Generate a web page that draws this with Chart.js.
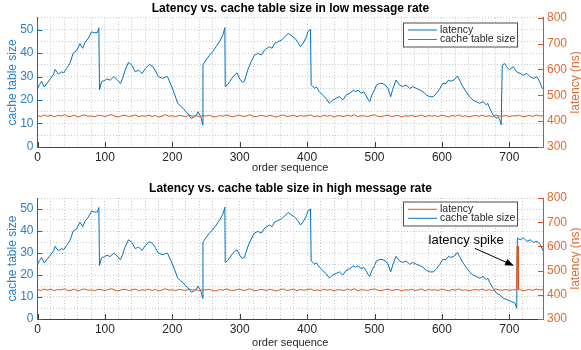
<!DOCTYPE html>
<html>
<head>
<meta charset="utf-8">
<title>Latency vs. cache table size</title>
<script src="https://cdn.jsdelivr.net/npm/chart.js@4"></script>
<style>
  html, body { margin: 0; padding: 0; background: #fff; }
  .panel { position: absolute; left: 0; width: 581px; height: 175px; }
</style>
</head>
<body>
<div class="panel" style="top:0"><canvas id="lowChart" width="581" height="175"></canvas></div>
<div class="panel" style="top:175px"><canvas id="highChart" width="581" height="175"></canvas></div>
<script>
// ========================================
// DATA
// ========================================

// cache table size, shared part of both runs (order sequence 0 .. ~671)
const cacheX = [0, 3, 6, 10, 14, 19, 24, 26, 31, 36, 39, 43, 48, 53, 58, 63, 67, 71, 75, 80, 85, 89, 91,
  92, 95, 100, 103, 108, 113, 118, 123, 126, 130, 135, 140, 145, 150, 155, 160, 166, 171, 175, 179, 183,
  186, 190, 193, 198, 203, 208, 212, 216, 220, 223, 228, 231, 233, 236, 238, 241, 243, 245,
  245.5, 250, 255, 260, 265, 270, 275, 278,
  278.5, 282, 285, 290, 292, 296, 300, 304, 307, 312, 317, 322, 327, 332, 337, 344, 348, 352, 357, 362,
  367, 372, 377, 382, 386, 390, 394, 399, 401, 405,
  406, 411, 414, 418, 423, 428, 433, 438, 443, 448, 453, 458, 463, 469, 472, 476, 480, 484, 487, 491,
  493, 496, 500, 503, 507, 511, 516, 520, 524, 527, 532, 537, 542, 547, 552, 557, 562, 567, 572, 577,
  582, 587, 592, 597, 601, 606, 610, 613, 618, 623, 626, 631, 636, 641, 646, 651, 656, 661, 666, 668, 671];
const cacheBody = [25, 26.5, 28, 25.5, 27, 29, 31, 33, 31, 32, 31.5, 33.4, 35.5, 40, 41, 44, 42, 44.7, 46, 49, 48.6, 48.7, 50.7,
  24.4, 27.7, 28.4, 29, 28.4, 30, 28.7, 27, 29, 32.7, 36, 34.8, 32, 32.7, 31.2, 33.4, 35.2, 34.3, 32.4, 30, 29.5,
  29.2, 29.8, 29.9, 26.4, 22.8, 18.6, 17.5, 16.5, 15, 14.3, 12.2, 12.5, 12.9, 13.5, 15, 13.5, 12.2, 9.4,
  34.9, 37, 39, 40.6, 42.7, 44.8, 47.7, 50.8,
  25.7, 26.5, 27.8, 29.9, 30.5, 31.5, 29, 27.5, 28, 32.8, 36.3, 39.1, 39.8, 39.1, 41.3, 42.7, 42, 44.1, 44.8, 45.5,
  46.9, 48.4, 47.3, 46.2, 44.8, 42.7, 44.1, 46.9, 49, 50,
  26.4, 25, 25.5, 23.6, 22.1, 20.7, 18.6, 20, 20.7, 21.4, 20, 22.1, 22.8, 24.2, 23.6, 24.2, 22.8, 23.5, 22.1, 20,
  19.3, 22.1, 24.3, 26.4, 27, 27.1, 26.4, 25, 21.4, 24.5, 28.5, 26.4, 25.7, 26.4, 24.9, 25.7, 24.9, 24.3, 23.5, 22.1,
  21.4, 21.4, 22.8, 24.9, 27, 27, 28.5, 28, 28.5, 30.2, 28.5, 25.7, 23.5, 21.4, 20, 19.3, 18.6, 19.3, 17.9, 18.6, 16.5];

// end of the low message rate run
const lowTailX = [676, 681, 683, 686, 688, 689.5, 693, 696, 700, 706, 711, 716, 721, 726, 731, 736, 741, 745, 749, 750];
const lowTail = [13.6, 12.2, 12.9, 11.5, 9.4, 34.9, 35.5, 34.2, 32.8, 34.2, 32, 31.3, 30.6, 31.3, 29.9, 29.2, 29.9, 27.8, 24.9, 24.5];

// end of the high message rate run
const highTailX = [676, 681, 686, 691, 696, 703, 708, 711, 712, 716, 721, 726, 731, 736, 741, 746, 750];
const highTail = [14, 11.7, 11, 9.4, 8.9, 7.9, 7.4, 4.9, 36.8, 36, 36.8, 35.3, 36, 34.8, 35.3, 33.8, 31];

// latency (ns), one value every 5 orders
const latency = [
  421, 418, 424, 419, 423, 417, 422, 420, 425, 418,
  419, 423, 416, 421, 424, 419, 420, 417, 423, 421,
  418, 422, 425, 419, 416, 421, 423, 418, 420, 424,
  417, 421, 419, 423, 418, 422, 416, 420, 425, 419,
  421, 417, 423, 420, 418, 424, 419, 422, 417, 421,
  420, 423, 418, 416, 422, 419, 424, 420, 417, 421,
  423, 418, 420, 425, 419, 417, 422, 421, 418, 423,
  419, 416, 421, 424, 418, 420, 423, 417, 422, 419,
  421, 424, 418, 420, 417, 423, 419, 422, 416, 421,
  420, 418, 423, 419, 425, 417, 421, 420, 418, 422,
  424, 419, 417, 421, 423, 418, 420, 422, 416, 421,
  419, 423, 418, 420, 424, 417, 422, 419, 421, 418,
  423, 420, 416, 422, 419, 424, 418, 421, 417, 420,
  422, 419, 423, 418, 421, 417, 424, 420, 419, 422,
  418, 421, 420, 423, 417, 419, 422, 418, 424, 420,
  421];

// latency spike in the high message rate run
const spikeX = [711, 711.5, 713, 713.5];
const spikeY = [421, 600, 600, 420];

const xTicks = [0, 100, 200, 300, 400, 500, 600, 700];
const cacheTicks = [0, 10, 20, 30, 40, 50];
const latencyTicks = [300, 400, 500, 600, 700, 800];

// ========================================
// STYLE
// ========================================

const BLUE = '#0072BD';
const BLUE_TEXT = '#2a7fc2';
const ORANGE = '#D95319';
const ORANGE_TEXT = '#e06a30';
const GRID = '#c9c9c9';
const INK = '#262626';

Chart.defaults.font.family = '"Liberation Sans", Arial, Helvetica, sans-serif';
Chart.defaults.animation = false;

function pairs(xs, ys) {
  return xs.map((x, i) => ({ x: x, y: ys[i] }));
}

const latencyX = latency.map((v, i) => i * 5);
const lowCache = pairs(cacheX.concat(lowTailX), cacheBody.concat(lowTail));
const highCache = pairs(cacheX.concat(highTailX), cacheBody.concat(highTail));
const lowLatency = pairs(latencyX, latency);
const highLatency = pairs(latencyX, latency).concat(pairs(spikeX, spikeY)).sort((a, b) => a.x - b.x);

// ========================================
// EXTRA DRAWING (inner ticks, right title, legend box, arrow)
// ========================================

const extrasPlugin = {
  id: 'extras',
  afterDatasetsDraw(chart, args, opts) {
    const ctx = chart.ctx;
    const area = chart.chartArea;
    const sx = chart.scales.x, sy = chart.scales.y, sr = chart.scales.y2;
    ctx.save();
    ctx.lineWidth = 1;

    // inward tick marks
    ctx.strokeStyle = '#404040';
    ctx.beginPath();
    xTicks.forEach(v => {
      const px = Math.round(sx.getPixelForValue(v)) + 0.5;
      ctx.moveTo(px, area.bottom);
      ctx.lineTo(px, area.bottom - 5);
    });
    ctx.stroke();
    ctx.strokeStyle = BLUE;
    ctx.beginPath();
    cacheTicks.forEach(v => {
      const py = Math.round(sy.getPixelForValue(v)) + 0.5;
      ctx.moveTo(area.left, py);
      ctx.lineTo(area.left + 5, py);
    });
    ctx.stroke();
    ctx.strokeStyle = ORANGE;
    ctx.beginPath();
    latencyTicks.forEach(v => {
      const py = Math.round(sr.getPixelForValue(v)) + 0.5;
      ctx.moveTo(area.right, py);
      ctx.lineTo(area.right - 5, py);
    });
    ctx.stroke();

    // legend box
    const lb = opts.box;
    ctx.fillStyle = '#fff';
    ctx.fillRect(lb.left, lb.top, lb.width, lb.height);
    ctx.strokeStyle = '#4d4d4d';
    ctx.strokeRect(lb.left + 0.5, lb.top + 0.5, lb.width, lb.height);
    ctx.font = '10.5px "Liberation Sans", Arial, sans-serif';
    ctx.textBaseline = 'middle';
    ctx.textAlign = 'left';
    opts.items.forEach((it, i) => {
      const y = lb.top + lb.rowTop + i * lb.rowGap;
      ctx.strokeStyle = it.color;
      ctx.beginPath();
      ctx.moveTo(lb.left + 5, y);
      ctx.lineTo(lb.left + 34, y);
      ctx.stroke();
      ctx.fillStyle = INK;
      ctx.fillText(it.label, lb.left + 37, y);
    });

    // annotation arrow
    if (opts.note) {
      const n = opts.note;
      ctx.fillStyle = '#000';
      ctx.font = '13px "Liberation Sans", Arial, sans-serif';
      ctx.textAlign = 'center';
      ctx.fillText(n.text, sx.getPixelForValue(n.tx), sr.getPixelForValue(n.ty));
      const x1 = sx.getPixelForValue(n.ax), y1 = sr.getPixelForValue(n.ay);
      const x2 = sx.getPixelForValue(n.bx), y2 = sr.getPixelForValue(n.by);
      const ang = Math.atan2(y2 - y1, x2 - x1);
      const hl = 9, hw = 3.5;
      const bx = x2 - hl * Math.cos(ang), by = y2 - hl * Math.sin(ang);
      ctx.strokeStyle = '#000';
      ctx.beginPath();
      ctx.moveTo(x1, y1);
      ctx.lineTo(bx, by);
      ctx.stroke();
      ctx.beginPath();
      ctx.moveTo(x2, y2);
      ctx.lineTo(bx + hw * Math.sin(ang), by - hw * Math.cos(ang));
      ctx.lineTo(bx - hw * Math.sin(ang), by + hw * Math.cos(ang));
      ctx.closePath();
      ctx.fill();
    }
    ctx.restore();
  },
  afterDraw(chart) {
    // right axis title reads bottom-to-top like the left one
    const ctx = chart.ctx;
    const area = chart.chartArea;
    ctx.save();
    ctx.translate(575.5, (area.top + area.bottom) / 2);
    ctx.rotate(-Math.PI / 2);
    ctx.fillStyle = ORANGE_TEXT;
    ctx.font = '12px "Liberation Sans", Arial, sans-serif';
    ctx.textAlign = 'center';
    ctx.textBaseline = 'middle';
    ctx.fillText('latency (ns)', 0, 0);
    ctx.restore();
  }
};

// ========================================
// CHART GENERATION
// ========================================

function makeChart(canvasId, cfg) {
  return new Chart(document.getElementById(canvasId), {
    type: 'line',
    data: {
      datasets: [
        {
          label: 'latency',
          data: cfg.latency,
          yAxisID: 'y2',
          borderColor: ORANGE,
          borderWidth: 1,
          pointRadius: 0,
          tension: 0
        },
        {
          label: 'cache table size',
          data: cfg.cache,
          yAxisID: 'y',
          borderColor: BLUE,
          borderWidth: 1,
          pointRadius: 0,
          tension: 0
        }
      ]
    },
    options: {
      responsive: false,
      layout: { padding: 0 },
      plugins: {
        legend: { display: false },
        tooltip: { enabled: false },
        title: {
          display: true,
          text: cfg.title,
          color: '#000',
          font: { size: 12, weight: 'bold' },
          padding: { top: cfg.titleTop, bottom: cfg.titleBottom }
        },
        extras: { box: cfg.legendBox, items: cfg.legendItems, note: cfg.note }
      },
      scales: {
        x: {
          type: 'linear',
          min: 0,
          max: 750,
          ticks: {
            stepSize: 20,
            autoSkip: false,
            maxRotation: 0,
            padding: 3,
            color: INK,
            font: { size: 12 },
            callback: v => (v % 100 === 0 ? v : '')
          },
          grid: { color: GRID, drawTicks: false },
          border: { color: '#404040', dash: [1, 2] },
          title: {
            display: true,
            text: 'order sequence',
            color: INK,
            font: { size: 11 },
            padding: { top: cfg.xTitlePad, bottom: 0 }
          },
          afterFit: s => { s.height = cfg.xHeight; }
        },
        y: {
          position: 'left',
          min: 0,
          max: 55,
          ticks: {
            stepSize: 5,
            autoSkip: false,
            padding: 4,
            color: BLUE_TEXT,
            font: { size: 12 },
            callback: v => (v % 10 === 0 ? v : '')
          },
          grid: { color: GRID, drawTicks: false },
          border: { color: BLUE, dash: [1, 2] },
          title: {
            display: true,
            text: 'cache table size',
            color: BLUE_TEXT,
            font: { size: 12 },
            padding: { top: 5, bottom: 0 }
          },
          afterFit: s => { s.width = 37.5; }
        },
        y2: {
          position: 'right',
          min: 300,
          max: 800,
          ticks: { stepSize: 100, padding: 4, color: ORANGE_TEXT, font: { size: 12 } },
          grid: { display: false, drawTicks: false },
          border: { color: ORANGE },
          afterFit: s => { s.width = 38; }
        }
      }
    },
    plugins: [extrasPlugin]
  });
}

document.addEventListener('DOMContentLoaded', function() {
  makeChart('lowChart', {
    title: 'Latency vs. cache table size in low message rate',
    titleTop: 1,
    titleBottom: 2.35,
    xHeight: 28,
    xTitlePad: 1.4,
    latency: lowLatency,
    cache: lowCache,
    // the original figure swaps the legend colours in this panel
    legendItems: [
      { label: 'latency', color: BLUE },
      { label: 'cache table size', color: ORANGE }
    ],
    legendBox: { left: 403, top: 22.5, width: 114, height: 24, rowTop: 7.5, rowGap: 9.5 },
    note: null
  });

  makeChart('highChart', {
    title: 'Latency vs. cache table size in high message rate',
    titleTop: 6.8,
    titleBottom: 1.8,
    xHeight: 31,
    xTitlePad: 5.4,
    latency: highLatency,
    cache: highCache,
    legendItems: [
      { label: 'latency', color: ORANGE },
      { label: 'cache table size', color: BLUE }
    ],
    legendBox: { left: 403, top: 26.5, width: 114, height: 24, rowTop: 7.8, rowGap: 9 },
    note: { text: 'latency spike', tx: 636, ty: 626, ax: 649, ay: 592, bx: 707, by: 520 }
  });
});
</script>
</body>
</html>
